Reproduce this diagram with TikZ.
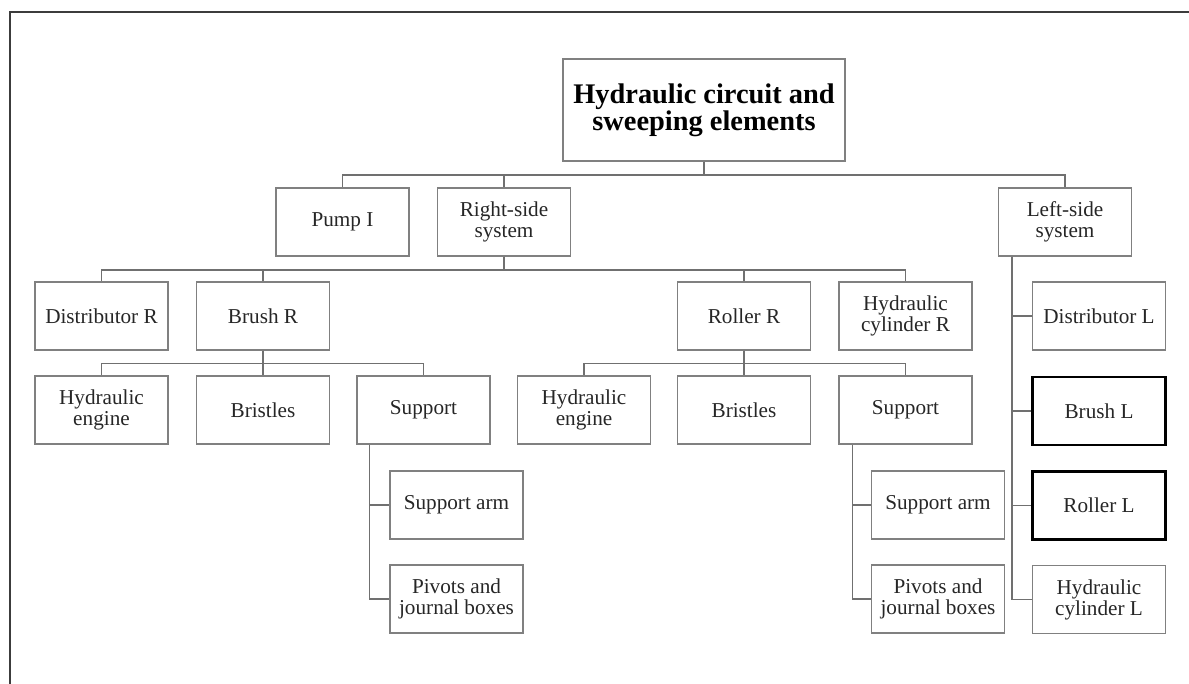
\documentclass[tikz,border=0pt]{standalone}
\usepackage{fontspec}
\setmainfont{Liberation Serif}
\begin{document}
\begin{tikzpicture}[x=0.5pt,y=-0.5pt,
  box/.style={draw=boxgray,line width=0.6pt,rectangle,minimum width=66.5pt,minimum height=34pt,
    inner sep=1pt,align=center,text=black!85,font=\fontsize{10.6}{10.5}\selectfont},
  strongbox/.style={box,draw=black,line width=1.1pt},
  titlebox/.style={box,minimum width=141pt,minimum height=51pt,text=black,
    font=\fontsize{14.2}{13.6}\selectfont\bfseries},
  link/.style={draw=linegray,line width=0.6pt}]
\definecolor{boxgray}{HTML}{808080}
\definecolor{linegray}{HTML}{707070}
\definecolor{framegray}{HTML}{3C3C3C}
\useasboundingbox (0,0) rectangle (1189,684);
% page frame (top and left edges)
\draw[framegray,line width=1pt] (10,684) -- (10,12) -- (1189,12);

% root and first level
\node[titlebox] (root) at (704,110) {Hydraulic circuit and\\sweeping elements};
\node[box] (pump) at (342.5,222) {Pump I};
\node[box] (rs) at (504,222) {Right-side\\system};
\node[box] (ls) at (1065,222) {Left-side\\system};

% right-side system
\node[box] (distR) at (101.5,316) {Distributor R};
\node[box] (brushR) at (263,316) {Brush R};
\node[box] (rollerR) at (744,316) {Roller R};
\node[box] (cylR) at (905.5,316) {Hydraulic\\cylinder R};

\node[box] (engB) at (101.5,410) {Hydraulic\\engine};
\node[box] (brisB) at (263,410) {Bristles};
\node[box] (supB) at (423.5,410) {Support};
\node[box] (engR) at (584,410) {Hydraulic\\engine};
\node[box] (brisR) at (744,410) {Bristles};
\node[box] (supR) at (905.5,410) {Support};

\node[box] (armB) at (456.5,505) {Support arm};
\node[box] (pivB) at (456.5,599) {Pivots and\\journal boxes};
\node[box] (armR) at (938,505) {Support arm};
\node[box] (pivR) at (938,599) {Pivots and\\journal boxes};

% left-side system
\node[box] (distL) at (1099,316) {Distributor L};
\node[strongbox] (brushL) at (1099,411) {Brush L};
\node[strongbox] (rollerL) at (1099,505.5) {Roller L};
\node[box] (cylL) at (1099,599.5) {Hydraulic\\cylinder L};

% bus levels
\coordinate (bus1) at (0,175);
\coordinate (bus2) at (0,270);
\coordinate (bus3) at (0,363.5);

\foreach \c in {pump,rs,ls}
  \draw[link] (root.south) -- (root.south |- bus1) -| (\c.north);
\foreach \c in {distR,brushR,rollerR,cylR}
  \draw[link] (rs.south) -- (rs.south |- bus2) -| (\c.north);
\foreach \c in {engB,brisB,supB}
  \draw[link] (brushR.south) -- (brushR.south |- bus3) -| (\c.north);
\foreach \c in {engR,brisR,supR}
  \draw[link] (rollerR.south) -- (rollerR.south |- bus3) -| (\c.north);

% side trunks
\foreach \c in {armB,pivB}
  \draw[link] ([xshift=6.5pt]supB.south west) |- (\c.west);
\foreach \c in {armR,pivR}
  \draw[link] ([xshift=7pt]supR.south west) |- (\c.west);
\foreach \c in {distL,brushL,rollerL,cylL}
  \draw[link] ([xshift=7pt]ls.south west) |- (\c.west);
\end{tikzpicture}
\end{document}
